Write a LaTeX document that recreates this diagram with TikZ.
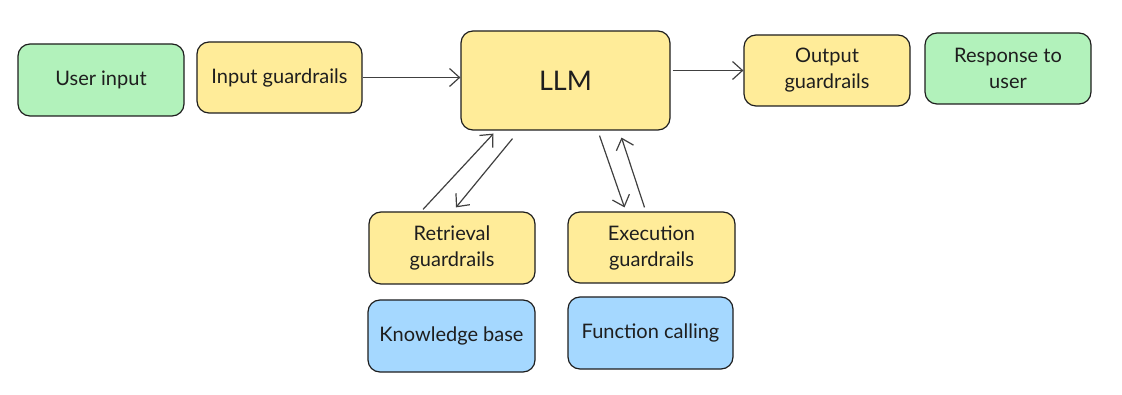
\documentclass[tikz,border=0pt]{standalone}
\usepackage{fontspec}
\setmainfont{Lato}
\usetikzlibrary{arrows.meta}
\definecolor{gfill}{HTML}{B2F2BB}
\definecolor{yfill}{HTML}{FFEC99}
\definecolor{bfill}{HTML}{A5D8FF}
\definecolor{ink}{HTML}{1E1E1E}
\tikzset{
  box/.style={draw=ink, line width=1.2pt, rounded corners=12pt, align=center,
    text=ink, font=\fontsize{20}{26}\selectfont, inner sep=2pt},
  gbox/.style={box, fill=gfill},
  ybox/.style={box, fill=yfill},
  bbox/.style={box, fill=bfill},
  arr/.style={draw=ink!85, line width=1.2pt, -{Straight Barb[length=10pt,width=18pt,line width=1.2pt]}}
}
\begin{document}
\begin{tikzpicture}[x=1pt,y=-1pt]
\useasboundingbox (0,0) rectangle (1122,395);
\node[gbox, minimum width=166pt, minimum height=72pt] (user) at (101,80) {User input};
\node[ybox, minimum width=165pt, minimum height=71pt] (ing) at (279.5,77.5) {Input guardrails};
\node[ybox, minimum width=209pt, minimum height=99pt, font=\fontsize{27}{30}\selectfont] (llm) at (565.5,80.5) {LLM};
\node[ybox, minimum width=166pt, minimum height=71pt] (outg) at (827,70.5) {Output\\guardrails};
\node[gbox, minimum width=166pt, minimum height=71pt] (resp) at (1008,68.5) {Response to\\user};
\node[ybox, minimum width=166pt, minimum height=72pt] (retr) at (452,248) {Retrieval\\guardrails};
\node[ybox, minimum width=167pt, minimum height=71pt] (exec) at (651.5,247.5) {Execution\\guardrails};
\node[bbox, minimum width=167pt, minimum height=72pt] (kb) at (451.5,336) {Knowledge base};
\node[bbox, minimum width=165pt, minimum height=72pt] (fc) at (650.5,333) {Function calling};
\draw[arr] (ing.east) -- (ing.east -| llm.west);
\draw[arr] ([xshift=2pt]llm.east |- outg.west) -- (outg.west);
\draw[arr] ([xshift=-29pt,yshift=2pt]retr.north) -- ([xshift=-72pt,yshift=-3pt]llm.south);
\draw[arr] ([xshift=-53pt,yshift=-8pt]llm.south) -- ([xshift=4pt,yshift=4pt]retr.north);
\draw[arr] ([xshift=34pt,yshift=-5pt]llm.south) -- ([xshift=-27pt,yshift=4pt]exec.north);
\draw[arr] ([xshift=-7pt,yshift=4pt]exec.north) -- ([xshift=56pt,yshift=-7pt]llm.south);
\end{tikzpicture}
\end{document}
